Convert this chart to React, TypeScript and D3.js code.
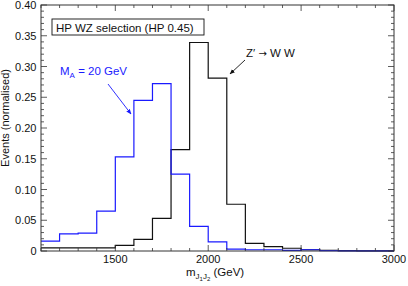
import * as d3 from "d3";

// bin low edges (GeV), 100 GeV wide
const binLow = [1100, 1200, 1300, 1400, 1500, 1600, 1700, 1800, 1900, 2000, 2100, 2200, 2300, 2400, 2500, 2600, 2700, 2800, 2900];
const binWidth = 100;

// M_A = 20 GeV (blue)
const maValues = [0.016, 0.028, 0.029, 0.065, 0.153, 0.245, 0.272, 0.125, 0.040, 0.015, 0.003, 0.002, 0.002, 0.001, 0.002, 0.0005, 0.0003, 0.0002, 0.0001];
// Z' -> W W (black)
const zpValues = [0.005, 0.005, 0.005, 0.005, 0.009, 0.019, 0.053, 0.165, 0.339, 0.281, 0.076, 0.0125, 0.007, 0.0045, 0.002, 0.001, 0.0005, 0.0003, 0.0002];

const xMajor = [1500, 2000, 2500, 3000];
const yMajor = [0, 0.05, 0.1, 0.15, 0.2, 0.25, 0.3, 0.35, 0.4];
const yLabels = ["0", "0.05", "0.10", "0.15", "0.20", "0.25", "0.30", "0.35", "0.40"];

const width = 408,
  height = 286;
const left = 41,
  right = 394,
  top = 5,
  bottom = 251;

const font = "'Liberation Sans', Arial, sans-serif";

function App() {
  const x = d3.scaleLinear().domain([1100, 3000]).range([left, right]);
  const y = d3.scaleLinear().domain([0, 0.4]).range([bottom, top]);

  // step path through bin edges
  const stepPath = (vals: number[]) => {
    const pts: [number, number][] = binLow.map((b, i) => [b, vals[i]]);
    pts.push([binLow[binLow.length - 1] + binWidth, vals[vals.length - 1]]);
    return d3
      .line<[number, number]>()
      .x((d) => x(d[0]))
      .y((d) => y(d[1]))
      .curve(d3.curveStepAfter)(pts);
  };

  const xMinor = d3.range(1100, 3001, 100);
  const yMinor = d3.range(0, 0.4001, 0.01);
  const axisCol = "#333";

  return (
    <svg
      width={width}
      height={height}
      style={{ position: "absolute", left: 0, top: 0, background: "#fff" }}
      fontFamily={font}
    >
      {/* histograms */}
      <path d={stepPath(zpValues) || ""} fill="none" stroke="#111" strokeWidth={1.2} />
      <path d={stepPath(maValues) || ""} fill="none" stroke="#1a1aff" strokeWidth={1.2} />

      {/* frame */}
      <rect x={left} y={top} width={right - left} height={bottom - top} fill="none" stroke={axisCol} strokeWidth={1} />

      {/* x ticks, bottom and top */}
      {xMinor.map((v) => {
        const major = v % 500 === 0;
        const l = major ? 6 : 3;
        return (
          <g key={"xt" + v} stroke={axisCol} strokeWidth={0.8}>
            <line x1={x(v)} x2={x(v)} y1={bottom} y2={bottom - l} />
            <line x1={x(v)} x2={x(v)} y1={top} y2={top + l} />
          </g>
        );
      })}
      {yMinor.map((v, i) => {
        const major = i % 5 === 0;
        const l = major ? 6 : 3;
        return (
          <g key={"yt" + i} stroke={axisCol} strokeWidth={0.8}>
            <line x1={left} x2={left + l} y1={y(v)} y2={y(v)} />
            <line x1={right} x2={right - l} y1={y(v)} y2={y(v)} />
          </g>
        );
      })}

      {/* tick labels */}
      {xMajor.map((v) => (
        <text key={"xl" + v} x={x(v)} y={263} textAnchor="middle" fontSize={11} fill="#111">
          {v}
        </text>
      ))}
      {yMajor.map((v, i) => (
        <text key={"yl" + i} x={36.5} y={y(v) + 4} textAnchor="end" fontSize={11} fill="#111">
          {yLabels[i]}
        </text>
      ))}

      {/* axis titles */}
      <text transform={`translate(9,118) rotate(-90)`} textAnchor="middle" fontSize={11} fill="#111">
        Events (normalised)
      </text>
      <text x={186} y={276} fontSize={11.5} fill="#111">
        m
        <tspan fontSize={8} dy={3}>J</tspan>
        <tspan fontSize={6} dy={2}>1</tspan>
        <tspan fontSize={8} dy={-2}>J</tspan>
        <tspan fontSize={6} dy={2}>2</tspan>
        <tspan fontSize={11.5} dy={-5}> (GeV)</tspan>
      </text>

      {/* selection box */}
      <rect x={52} y={19} width={152} height={16} fill="#fff" stroke="#111" strokeWidth={0.9} />
      <text x={56} y={31.5} fontSize={11.5} fill="#111">
        HP WZ selection (HP 0.45)
      </text>

      {/* M_A annotation */}
      <text x={60} y={75} fontSize={11.5} fill="#1a1aff">
        M<tspan fontSize={8} dy={3}>A</tspan>
        <tspan dy={-3}> = 20 GeV</tspan>
      </text>
      <defs>
        <marker id="ahB" viewBox="0 0 10 10" refX={9} refY={5} markerWidth={6} markerHeight={6} orient="auto">
          <path d="M0,1 L10,5 L0,9 z" fill="#1a1aff" />
        </marker>
        <marker id="ahK" viewBox="0 0 10 10" refX={9} refY={5} markerWidth={6} markerHeight={6} orient="auto">
          <path d="M0,1 L10,5 L0,9 z" fill="#111" />
        </marker>
      </defs>
      <line x1={108} y1={84} x2={131} y2={114} stroke="#1a1aff" strokeWidth={0.9} markerEnd="url(#ahB)" />

      {/* Z' annotation */}
      <text x={246} y={57} fontSize={11.5} fill="#111">
        Z′ <tspan fontFamily="'DejaVu Sans'" fontSize={10}>→</tspan> W W
      </text>
      <line x1={245} y1={60} x2={230} y2={74} stroke="#111" strokeWidth={0.9} markerEnd="url(#ahK)" />
    </svg>
  );
}

export default App;
